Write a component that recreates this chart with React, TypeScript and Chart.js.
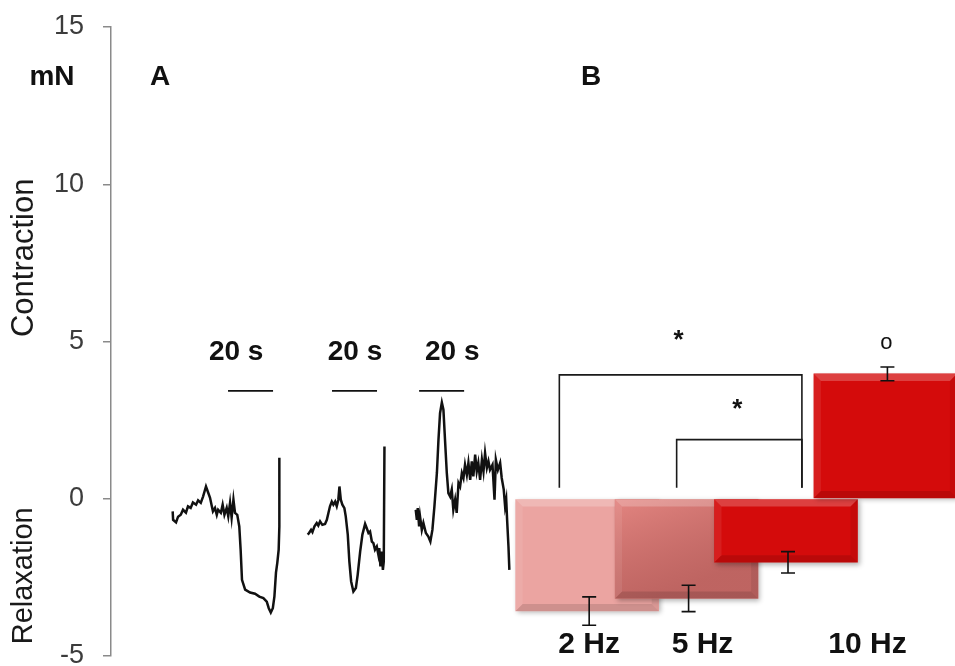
import React, { useEffect, useRef } from "react";
import { Chart, registerables } from "chart.js";

Chart.register(...registerables);

// ---------- Panel A: force traces (time in s, force in mN) ----------
const trace1Time = [27.4, 27.6, 28.9, 29.8, 31.0, 32.0, 33.3, 34.2, 35.4, 36.4, 37.8, 38.7, 39.9, 40.9, 42.2, 43.0, 44.0, 44.8, 45.3, 46.2, 47.0, 47.6, 48.8, 49.6, 50.4, 51.4, 52.1, 52.9, 53.6, 54.4, 55.1, 56.1, 57.0, 57.6, 58.2, 59.6, 61.8, 64.0, 65.9, 67.7, 69.2, 70.1, 71.0, 71.9, 72.6, 73.3, 73.9, 74.5, 74.8, 74.8];
const trace1Force = [-0.40, -0.67, -0.75, -0.57, -0.51, -0.35, -0.44, -0.24, -0.29, -0.12, -0.19, -0.05, -0.13, 0.07, 0.39, 0.23, 0.03, -0.24, -0.40, -0.29, -0.51, -0.35, -0.45, -0.19, -0.51, -0.29, -0.56, -0.13, -0.60, -0.03, -0.45, -0.51, -0.88, -1.62, -2.58, -2.89, -2.98, -3.02, -3.11, -3.16, -3.27, -3.48, -3.62, -3.48, -3.11, -2.35, -2.03, -1.62, -0.88, 1.30];

const trace2Time = [87.4, 88.0, 88.9, 89.5, 90.4, 91.4, 92.1, 92.9, 93.9, 95.1, 95.9, 96.6, 97.3, 98.1, 98.8, 99.6, 100.3, 101.0, 101.5, 102.1, 102.8, 103.7, 104.3, 105.2, 105.9, 106.7, 107.7, 108.8, 109.6, 110.7, 111.7, 112.9, 113.6, 114.4, 115.1, 115.9, 116.6, 117.3, 118.1, 118.8, 119.2, 119.7, 120.3, 120.8, 121.2, 121.5];
const trace2Force = [-1.14, -1.09, -0.99, -1.06, -0.88, -0.77, -0.85, -0.72, -0.83, -0.80, -0.67, -0.45, -0.24, -0.09, -0.19, -0.09, -0.24, -0.03, 0.39, -0.03, -0.19, -0.30, -0.56, -1.14, -1.99, -2.63, -2.95, -2.84, -2.42, -1.68, -1.14, -0.80, -0.93, -1.09, -1.04, -1.36, -1.41, -1.62, -1.52, -1.78, -1.57, -2.15, -1.68, -2.26, -1.99, 1.66];

const trace3Time = [135.4, 135.9, 136.3, 136.9, 137.3, 138.1, 138.8, 139.9, 141.0, 141.9, 142.8, 143.7, 144.8, 145.5, 146.2, 147.0, 147.7, 148.4, 149.2, 149.9, 150.7, 151.4, 152.1, 152.9, 153.6, 154.4, 155.1, 155.9, 156.6, 157.3, 158.1, 158.8, 159.6, 160.3, 161.0, 161.8, 162.5, 163.2, 164.0, 164.8, 165.5, 166.2, 167.0, 167.7, 168.4, 169.5, 170.4, 171.0, 171.9, 172.9, 173.6, 174.5, 175.1, 175.6, 176.0, 176.6, 177.0];
const trace3Force = [-0.35, -0.67, -0.30, -0.88, -0.56, -0.99, -0.77, -1.09, -1.20, -1.36, -0.99, -0.24, 0.82, 1.88, 2.72, 3.06, 2.83, 1.88, 0.82, 0.18, 0.07, 0.29, -0.35, -0.03, -0.45, 0.50, 0.39, 0.82, 0.66, 1.08, 0.76, 1.14, 0.60, 1.19, 0.71, 1.40, 0.87, 1.14, 0.60, 1.24, 0.87, 1.45, 0.98, 1.19, 0.92, 1.08, -0.03, 1.24, 0.92, 1.14, 0.66, 0.29, -0.24, -0.03, -0.67, -1.52, -2.26];

// 20 s time scale bars
const scaleBarStart = [52.0, 98.2, 136.9];
const scaleBarDuration = 20;
const scaleBarLevel = 3.43;
const scaleBarLabel = "20 s";
const scaleLabelTime = [55.6, 108.4, 151.6];
const scaleLabelLevel = 4.67;

// ---------- Panel B: mean responses ----------
const barPos = [1, 2, 3, 4];
const barMean = [-3.57, -3.17, -2.02, 3.97];
const barSem = [0.45, 0.42, 0.34, 0.22];
const barColors = ["#EBA4A1", "#D97C78", "#D40B0B", "#D40B0B"];
const freqLabels = ["2 Hz", "5 Hz", "10 Hz"];
const freqLabelPos = [1.02, 2.16, 3.82];
const freqLabelLevel = -4.64;

// significance brackets: [leftPos, rightPos, topLevel]
const bracketLeft = [0.72, 1.9];
const bracketRight = [3.16, 3.16];
const bracketTop = [3.94, 1.88];
const bracketBase = 0.35;
const sigMarks = ["*", "*", "o"];
const sigPos = [1.92, 2.51, 4.01];
const sigLevel = [5.02, 2.83, 4.96];

// panel letters
const panelLetters = ["A", "B"];
const panelLetterTime = [21.8, 213.3];
const panelLetterLevel = 13.39;

const yTicks = { min: -5, max: 15, step: 5 };
const FONT = "'Liberation Sans', Arial, Helvetica, sans-serif";

function xy(t: number[], f: number[]) {
  const n = Math.min(t.length, f.length);
  const out: { x: number; y: number }[] = [];
  for (let i = 0; i < n; i++) out.push({ x: t[i], y: f[i] });
  return out;
}

const barShadowPlugin = {
  id: "barShadow",
  beforeDatasetDraw(chart: any, args: any) {
    if (args.meta.type !== "bar") return;
    const ctx = chart.ctx;
    ctx.save();
    ctx.shadowColor = "rgba(0,0,0,0.3)";
    ctx.shadowBlur = 5;
    ctx.shadowOffsetX = 2;
    ctx.shadowOffsetY = 2;
  },
  afterDatasetDraw(chart: any, args: any) {
    if (args.meta.type !== "bar") return;
    const ctx = chart.ctx;
    ctx.restore();
    const el = args.meta.data[0];
    if (!el) return;
    const p = el.getProps(["x", "y", "base", "width"], true);
    const l = p.x - p.width / 2;
    const r = p.x + p.width / 2;
    const t = Math.min(p.y, p.base);
    const b = Math.max(p.y, p.base);
    const s = 7;
    ctx.save();
    ctx.beginPath();
    ctx.rect(chart.chartArea.left, chart.chartArea.top, chart.chartArea.right - chart.chartArea.left, chart.chartArea.bottom - chart.chartArea.top);
    ctx.clip();
    const ds = chart.data.datasets[args.index];
    if (ds.shade) {
      const g = ctx.createLinearGradient(l, t, l + (r - l) * 0.25, b);
      g.addColorStop(0, "rgba(245,150,145,0.35)");
      g.addColorStop(1, "rgba(110,30,30,0.25)");
      ctx.fillStyle = g;
      ctx.fillRect(l, t, r - l, b - t);
    }
    const poly = (pts: number[][], fill: string) => {
      ctx.beginPath();
      ctx.moveTo(pts[0][0], pts[0][1]);
      for (let i = 1; i < pts.length; i++) ctx.lineTo(pts[i][0], pts[i][1]);
      ctx.closePath();
      ctx.fillStyle = fill;
      ctx.fill();
    };
    poly([[l, t], [r, t], [r - s, t + s], [l + s, t + s]], "rgba(255,255,255,0.22)");
    poly([[l, t], [l + s, t + s], [l + s, b - s], [l, b]], "rgba(255,255,255,0.08)");
    poly([[r, t], [r, b], [r - s, b - s], [r - s, t + s]], "rgba(0,0,0,0.07)");
    poly([[l, b], [r, b], [r - s, b - s], [l + s, b - s]], "rgba(0,0,0,0.12)");
    ctx.restore();
  },
};

const annotationPlugin = {
  id: "annotations",
  afterDatasetsDraw(chart: any) {
    const ctx = chart.ctx;
    const y = chart.scales.y;
    const xb = chart.scales.xb;
    const xt = chart.scales.x;
    const area = chart.chartArea;
    ctx.save();
    // error bars
    ctx.strokeStyle = "#111";
    ctx.lineWidth = 1.6;
    for (let i = 0; i < barMean.length; i++) {
      const px = xb.getPixelForValue(barPos[i]) + 2;
      const y1 = y.getPixelForValue(barMean[i] - barSem[i]);
      const y2 = y.getPixelForValue(barMean[i] + barSem[i]);
      ctx.beginPath();
      ctx.moveTo(px, y1);
      ctx.lineTo(px, y2);
      ctx.moveTo(px - 7, y1);
      ctx.lineTo(px + 7, y1);
      ctx.moveTo(px - 7, y2);
      ctx.lineTo(px + 7, y2);
      ctx.stroke();
    }
    ctx.fillStyle = "#111";
    ctx.textAlign = "center";
    ctx.textBaseline = "middle";
    // significance marks
    for (let i = 0; i < sigMarks.length; i++) {
      ctx.font = sigMarks[i] === "*" ? `bold 26px ${FONT}` : `22px ${FONT}`;
      ctx.fillText(sigMarks[i], xb.getPixelForValue(sigPos[i]), y.getPixelForValue(sigLevel[i]));
    }
    // frequency labels
    ctx.font = `bold 30px ${FONT}`;
    for (let i = 0; i < freqLabels.length; i++) {
      ctx.fillText(freqLabels[i], xb.getPixelForValue(freqLabelPos[i]), y.getPixelForValue(freqLabelLevel));
    }
    // scale bar labels
    ctx.font = `bold 28px ${FONT}`;
    for (let i = 0; i < scaleLabelTime.length; i++) {
      ctx.fillText(scaleBarLabel, xt.getPixelForValue(scaleLabelTime[i]), y.getPixelForValue(scaleLabelLevel));
    }
    // panel letters
    ctx.font = `bold 28px ${FONT}`;
    for (let i = 0; i < panelLetters.length; i++) {
      ctx.fillText(panelLetters[i], xt.getPixelForValue(panelLetterTime[i]), y.getPixelForValue(panelLetterLevel));
    }
    ctx.fillText("mN", area.left - 59, y.getPixelForValue(panelLetterLevel));
    // axis titles
    ctx.fillStyle = "#1a1a1a";
    const titles: [string, number, number][] = [["Contraction", 7.66, 31], ["Relaxation", -2.45, 29]];
    for (const [txt, lvl, size] of titles) {
      ctx.save();
      ctx.font = `${size}px ${FONT}`;
      ctx.translate(area.left - 87, y.getPixelForValue(lvl));
      ctx.rotate(-Math.PI / 2);
      ctx.fillText(txt, 0, 0);
      ctx.restore();
    }
    ctx.restore();
  },
};

export default function App() {
  const ref = useRef<HTMLCanvasElement | null>(null);
  useEffect(() => {
    document.body.style.margin = "0";
    const canvas = ref.current;
    if (!canvas) return;

    const lineStyle = {
      type: "line" as const,
      xAxisID: "x",
      yAxisID: "y",
      borderColor: "#111",
      borderWidth: 2.5,
      pointRadius: 0,
      tension: 0,
      fill: false,
      order: 0,
    };

    const datasets: any[] = [
      { ...lineStyle, data: xy(trace1Time, trace1Force) },
      { ...lineStyle, data: xy(trace2Time, trace2Force) },
      { ...lineStyle, data: xy(trace3Time, trace3Force) },
    ];
    scaleBarStart.forEach((s) => {
      datasets.push({
        ...lineStyle,
        borderWidth: 1.6,
        data: [
          { x: s, y: scaleBarLevel },
          { x: s + scaleBarDuration, y: scaleBarLevel },
        ],
      });
    });
    bracketLeft.forEach((lft, i) => {
      datasets.push({
        ...lineStyle,
        xAxisID: "xb",
        borderWidth: 1.6,
        borderColor: "#1a1a1a",
        data: [
          { x: lft, y: bracketBase },
          { x: lft, y: bracketTop[i] },
          { x: bracketRight[i], y: bracketTop[i] },
          { x: bracketRight[i], y: bracketBase },
        ],
      });
    });
    barPos.forEach((p, i) => {
      datasets.push({
        type: "bar",
        xAxisID: "xb",
        yAxisID: "y",
        data: [{ x: p, y: barMean[i] }],
        backgroundColor: barColors[i],
        borderWidth: 0,
        barThickness: 143,
        grouped: false,
        order: barPos.length - i + 1,
        shade: i === 1,
      });
    });

    const chart = new Chart(canvas, {
      type: "bar",
      data: { datasets },
      plugins: [barShadowPlugin, annotationPlugin],
      options: {
        animation: false,
        responsive: false,
        devicePixelRatio: 1,
        layout: { padding: { top: 27, bottom: 10, left: 0, right: 0 } },
        plugins: { legend: { display: false }, tooltip: { enabled: false }, title: { display: false } },
        scales: {
          x: { type: "linear", min: 0, max: 375, display: false, offset: false },
          xb: { type: "linear", min: -3.79, max: 4.7, display: false, offset: false },
          y: {
            type: "linear",
            position: "left",
            min: yTicks.min,
            max: yTicks.max,
            ticks: {
              stepSize: yTicks.step,
              color: "#3c3c3c",
              padding: 19,
              font: { size: 27, family: FONT },
            },
            grid: { drawOnChartArea: false, drawTicks: true, tickLength: 8, color: "#8a8a8a", lineWidth: 1.5 },
            border: { display: true, color: "#8a8a8a", width: 1.5 },
            afterFit: (s: any) => {
              s.width = 111;
              s.paddingTop = 0;
              s.paddingBottom = 0;
            },
          },
        },
      } as any,
    });
    return () => chart.destroy();
  }, []);

  return (
    <div style={{ position: "absolute", left: 0, top: 0, width: 955, height: 666, background: "#fff" }}>
      <canvas ref={ref} width={955} height={666} style={{ display: "block", width: 955, height: 666 }} />
    </div>
  );
}
